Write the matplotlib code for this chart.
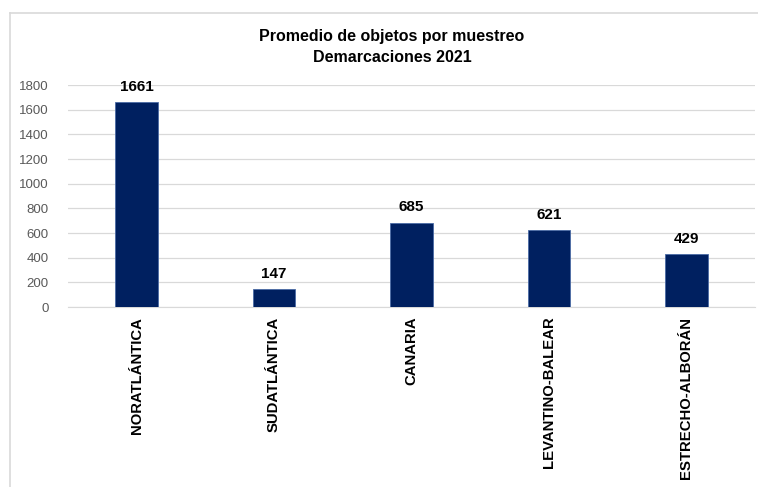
import matplotlib.pyplot as plt
import numpy as np
from matplotlib.lines import Line2D

# Average objects per sample, by marine demarcation (2021)
demarcaciones = ['NORATLÁNTICA', 'SUDATLÁNTICA', 'CANARIA', 'LEVANTINO-BALEAR', 'ESTRECHO-ALBORÁN']
promedio = [1661, 147, 685, 621, 429]

plt.rcParams['font.family'] = ['Liberation Sans', 'DejaVu Sans']

fig = plt.figure(figsize=(7.58, 4.87), dpi=100)
ax = fig.add_axes([68 / 758, 180 / 487, 687 / 758, 222 / 487])

x = np.arange(len(demarcaciones))
bars = ax.bar(x, promedio, width=0.31, color='#002060', edgecolor='#4a6aa5', linewidth=0.6, zorder=3)

for b, v in zip(bars, promedio):
    ax.annotate(str(v), (b.get_x() + b.get_width() / 2, v), xytext=(0, 6),
                textcoords='offset points', ha='center', va='bottom',
                fontsize=11, fontweight='bold', color='black')

ax.set_xlim(-0.5, len(demarcaciones) - 0.5)
ax.set_ylim(0, 1800)
ax.set_yticks(np.arange(0, 1801, 200))
ax.yaxis.grid(True, color='#d9d9d9', linewidth=0.9, zorder=0)
ax.set_axisbelow(True)
for s in ['top', 'right', 'left']:
    ax.spines[s].set_visible(False)
ax.spines['bottom'].set_color('#d9d9d9')
ax.tick_params(axis='y', length=0, labelsize=9.5, labelcolor='#595959', pad=14)
ax.tick_params(axis='x', length=0, pad=7)
ax.set_xticks(x)
ax.set_xticklabels(demarcaciones, rotation=90, fontsize=10.7, fontweight='bold', va='top')

fig.text(392 / 758, 1 - 47 / 487, 'Promedio de objetos por muestreo\nDemarcaciones 2021',
         ha='center', va='center', fontsize=11.5, fontweight='bold', linespacing=1.45)

# chart area border (cropped)
fig.add_artist(Line2D([10 / 758, 1], [1 - 13 / 487, 1 - 13 / 487], color='#d9d9d9', linewidth=1.2))
fig.add_artist(Line2D([10 / 758, 10 / 758], [0, 1 - 13 / 487], color='#d9d9d9', linewidth=1.2))

plt.savefig('out.png', dpi=100)
